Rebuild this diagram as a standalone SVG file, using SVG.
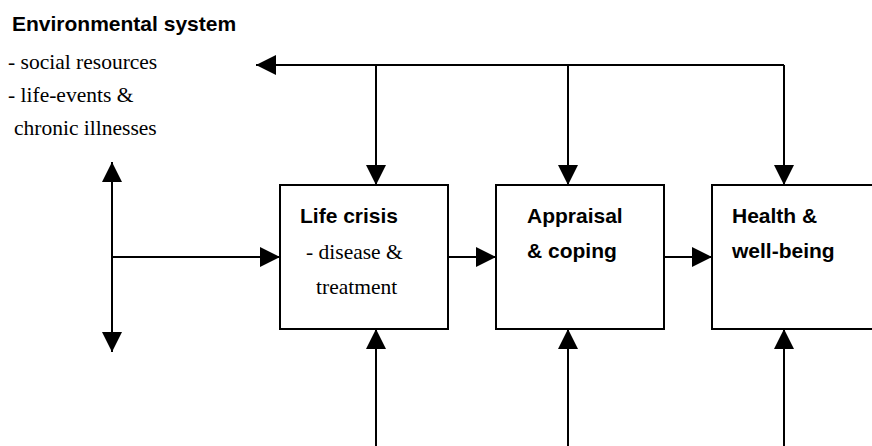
<svg xmlns="http://www.w3.org/2000/svg" width="872" height="446" viewBox="0 0 872 446">
<style>
.b{font-family:"Liberation Sans",Arial,sans-serif;font-weight:bold;font-size:21px;fill:#000}
.s{font-family:"Liberation Serif","Times New Roman",serif;font-size:21.5px;fill:#000}
.box{fill:#fff;stroke:#000;stroke-width:2}
.c path{fill:none;stroke:#000;stroke-width:2}
</style>
<defs>
<marker id="ah" markerUnits="userSpaceOnUse" markerWidth="20" markerHeight="20" refX="20" refY="10" orient="auto-start-reverse" viewBox="0 0 20 20">
<path d="M0,0 L20,10 L0,20 z" fill="#000"/>
</marker>
</defs>
<rect width="872" height="446" fill="#fff"/>
<g id="environment">
<text class="b" x="12" y="31">Environmental system</text>
<text class="s" x="8" y="69">- social resources</text>
<text class="s" x="8" y="102">- life-events &amp;</text>
<text class="s" x="14" y="135">chronic illnesses</text>
</g>
<g id="life-crisis">
<rect class="box" x="280" y="185" width="168" height="144"/>
<text class="b" x="300" y="223">Life crisis</text>
<text class="s" x="306" y="259">- disease &amp;</text>
<text class="s" x="316" y="294">treatment</text>
</g>
<g id="appraisal">
<rect class="box" x="496" y="185" width="168" height="144"/>
<text class="b" x="527" y="223">Appraisal</text>
<text class="b" x="527" y="258">&amp; coping</text>
</g>
<g id="health">
<rect class="box" x="712" y="185" width="172" height="144"/>
<text class="b" x="732" y="223">Health &amp;</text>
<text class="b" x="732" y="258">well-being</text>
</g>
<g id="connectors" class="c">
<path d="M784,65 H256" marker-end="url(#ah)"/>
<path d="M376,65 V185" marker-end="url(#ah)"/>
<path d="M568,65 V185" marker-end="url(#ah)"/>
<path d="M784,65 V185" marker-end="url(#ah)"/>
<path d="M112,162 V352" marker-start="url(#ah)" marker-end="url(#ah)"/>
<path d="M112,257 H280" marker-end="url(#ah)"/>
<path d="M448,257 H496" marker-end="url(#ah)"/>
<path d="M664,257 H712" marker-end="url(#ah)"/>
<path d="M376,446 V329" marker-end="url(#ah)"/>
<path d="M568,446 V329" marker-end="url(#ah)"/>
<path d="M784,446 V329" marker-end="url(#ah)"/>
</g>
</svg>
